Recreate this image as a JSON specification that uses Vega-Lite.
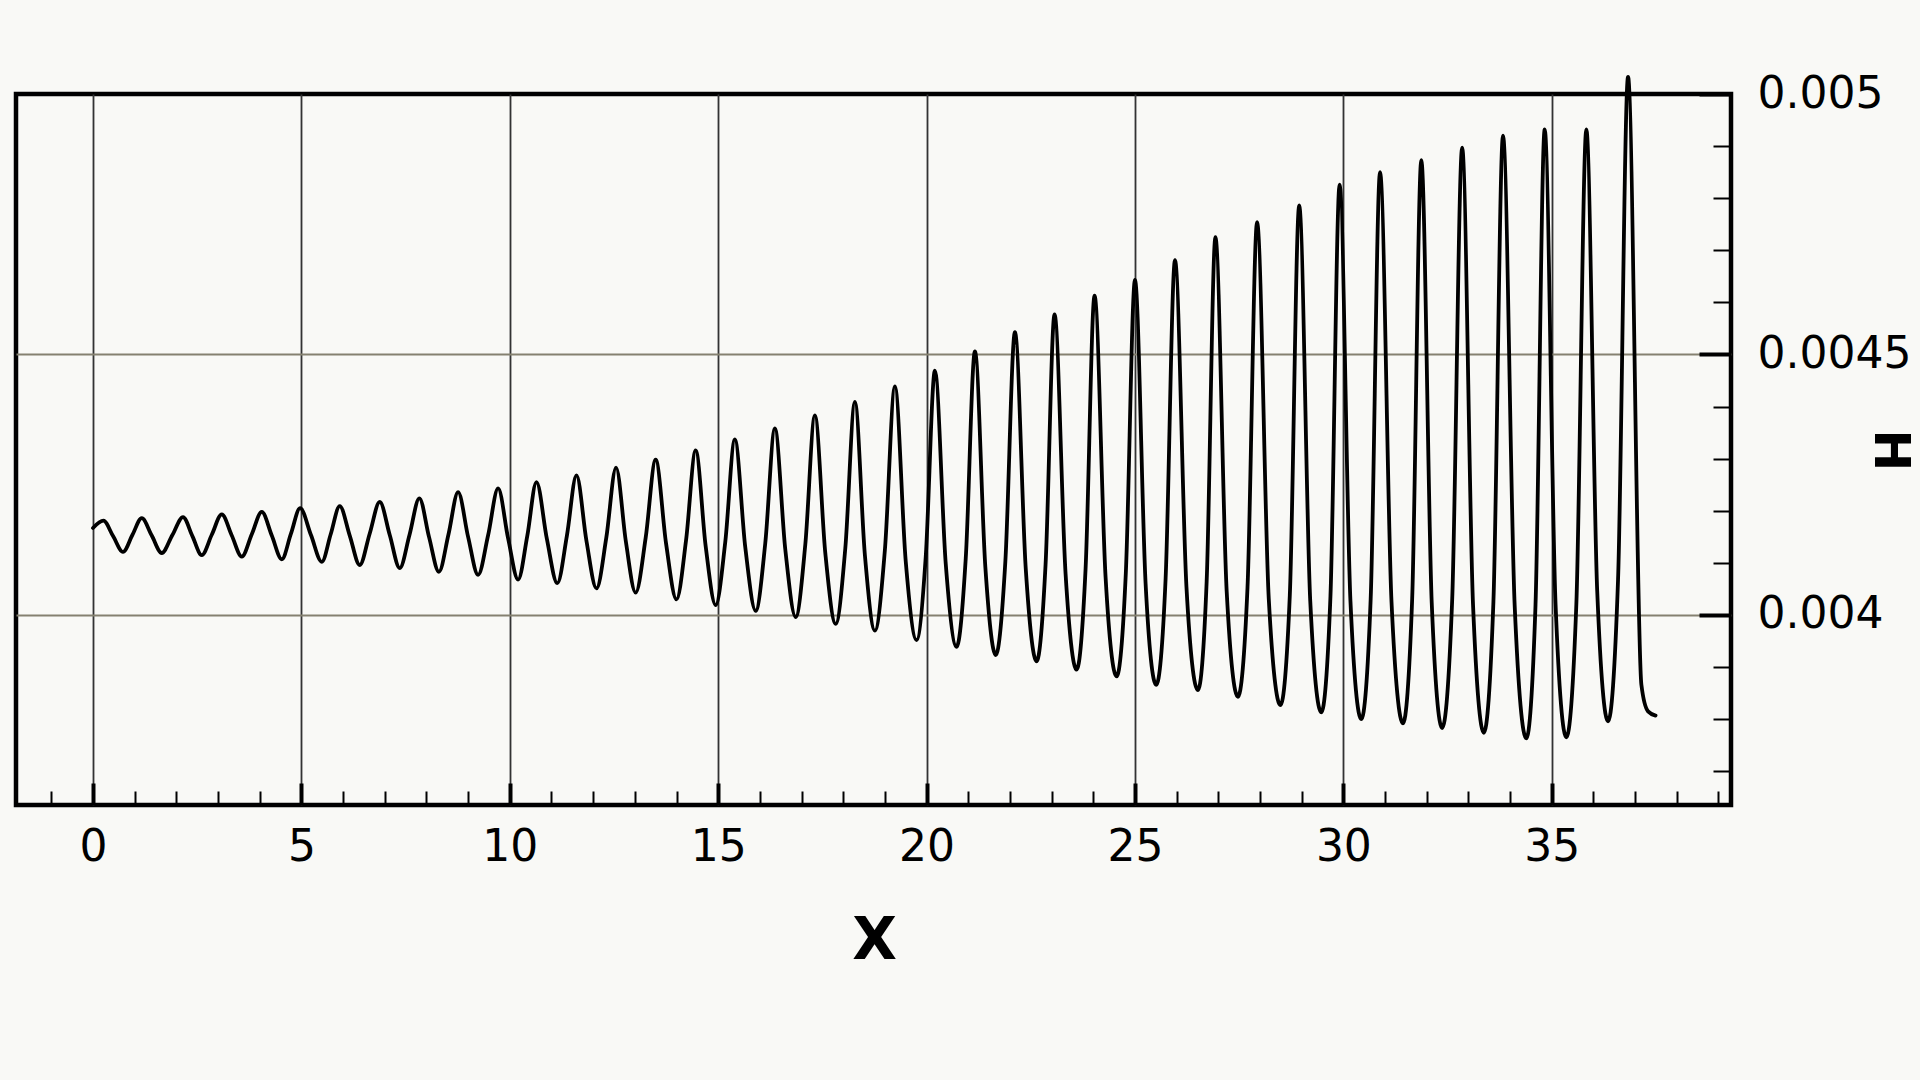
{
  "$schema": "https://vega.github.io/schema/vega-lite/v6.json",
  "width": 1715,
  "height": 711,
  "autosize": {"type": "none"},
  "padding": {"left": 16, "top": 94, "right": 189, "bottom": 275},
  "background": "#f9f9f6",
  "view": {"stroke": "#000000", "strokeWidth": 4.5, "fill": "#f9f9f6"},
  "data": {"values": [
    {"x": 0, "H": 0.004167}, {"x": 0.25, "H": 0.004181}, {"x": 0.485, "H": 0.004151}, {"x": 0.72, "H": 0.004121},
    {"x": 0.945, "H": 0.0041535}, {"x": 1.17, "H": 0.004186}, {"x": 1.41, "H": 0.0041525}, {"x": 1.65, "H": 0.004119},
    {"x": 1.905, "H": 0.0041535}, {"x": 2.16, "H": 0.004188}, {"x": 2.385, "H": 0.0041515}, {"x": 2.61, "H": 0.004115},
    {"x": 2.85, "H": 0.004154}, {"x": 3.09, "H": 0.004193}, {"x": 3.33, "H": 0.0041525}, {"x": 3.57, "H": 0.004112},
    {"x": 3.81, "H": 0.004155}, {"x": 4.05, "H": 0.004198}, {"x": 4.29, "H": 0.0041525}, {"x": 4.53, "H": 0.004107},
    {"x": 4.75, "H": 0.004156}, {"x": 4.97, "H": 0.004205}, {"x": 5.23, "H": 0.0041535}, {"x": 5.49, "H": 0.004102},
    {"x": 5.705, "H": 0.0041555}, {"x": 5.92, "H": 0.004209}, {"x": 6.16, "H": 0.0041525}, {"x": 6.4, "H": 0.004096},
    {"x": 6.64, "H": 0.0041565}, {"x": 6.88, "H": 0.004217}, {"x": 7.12, "H": 0.0041535}, {"x": 7.36, "H": 0.00409},
    {"x": 7.595, "H": 0.004154}, {"x": 7.83, "H": 0.004224}, {"x": 8.065, "H": 0.004149}, {"x": 8.3, "H": 0.004083},
    {"x": 8.53, "H": 0.004155}, {"x": 8.76, "H": 0.004236}, {"x": 9.0, "H": 0.00415}, {"x": 9.24, "H": 0.004077},
    {"x": 9.48, "H": 0.004153}, {"x": 9.72, "H": 0.004243}, {"x": 9.96, "H": 0.004147}, {"x": 10.2, "H": 0.004068},
    {"x": 10.42, "H": 0.004152}, {"x": 10.64, "H": 0.004255}, {"x": 10.89, "H": 0.004146}, {"x": 11.14, "H": 0.004061},
    {"x": 11.37, "H": 0.004152}, {"x": 11.6, "H": 0.004268}, {"x": 11.84, "H": 0.004142}, {"x": 12.08, "H": 0.004051},
    {"x": 12.315, "H": 0.004148}, {"x": 12.55, "H": 0.004283}, {"x": 12.785, "H": 0.004141}, {"x": 13.02, "H": 0.004043},
    {"x": 13.26, "H": 0.004148}, {"x": 13.5, "H": 0.004298}, {"x": 13.75, "H": 0.004137}, {"x": 14.0, "H": 0.00403},
    {"x": 14.23, "H": 0.004144}, {"x": 14.46, "H": 0.004316}, {"x": 14.7, "H": 0.004132}, {"x": 14.94, "H": 0.004019},
    {"x": 15.17, "H": 0.00414}, {"x": 15.4, "H": 0.004337}, {"x": 15.65, "H": 0.00413}, {"x": 15.9, "H": 0.004008},
    {"x": 16.13, "H": 0.004138}, {"x": 16.36, "H": 0.004358}, {"x": 16.61, "H": 0.004126}, {"x": 16.86, "H": 0.003996},
    {"x": 17.09, "H": 0.004135}, {"x": 17.32, "H": 0.004383}, {"x": 17.57, "H": 0.004119}, {"x": 17.82, "H": 0.003983},
    {"x": 18.05, "H": 0.004128}, {"x": 18.28, "H": 0.004409}, {"x": 18.52, "H": 0.004115}, {"x": 18.76, "H": 0.00397},
    {"x": 19.0, "H": 0.004125}, {"x": 19.24, "H": 0.004439}, {"x": 19.5, "H": 0.004103}, {"x": 19.76, "H": 0.003952},
    {"x": 19.98, "H": 0.004112}, {"x": 20.2, "H": 0.004469}, {"x": 20.46, "H": 0.004098}, {"x": 20.72, "H": 0.003939},
    {"x": 20.94, "H": 0.004109}, {"x": 21.16, "H": 0.004506}, {"x": 21.41, "H": 0.004092}, {"x": 21.66, "H": 0.003923},
    {"x": 21.89, "H": 0.004103}, {"x": 22.12, "H": 0.004543}, {"x": 22.38, "H": 0.004088}, {"x": 22.64, "H": 0.003911},
    {"x": 22.855, "H": 0.004097}, {"x": 23.07, "H": 0.004577}, {"x": 23.335, "H": 0.004079}, {"x": 23.6, "H": 0.003895},
    {"x": 23.815, "H": 0.004089}, {"x": 24.03, "H": 0.004613}, {"x": 24.295, "H": 0.004072}, {"x": 24.56, "H": 0.003882},
    {"x": 24.78, "H": 0.00408}, {"x": 25.0, "H": 0.004643}, {"x": 25.255, "H": 0.00406}, {"x": 25.51, "H": 0.003866},
    {"x": 25.735, "H": 0.00407}, {"x": 25.96, "H": 0.004681}, {"x": 26.235, "H": 0.004054}, {"x": 26.51, "H": 0.003856},
    {"x": 26.72, "H": 0.004065}, {"x": 26.93, "H": 0.004725}, {"x": 27.2, "H": 0.004046}, {"x": 27.47, "H": 0.003843},
    {"x": 27.7, "H": 0.004053}, {"x": 27.93, "H": 0.004754}, {"x": 28.21, "H": 0.004031}, {"x": 28.49, "H": 0.003827},
    {"x": 28.715, "H": 0.004038}, {"x": 28.94, "H": 0.004786}, {"x": 29.205, "H": 0.004027}, {"x": 29.47, "H": 0.003813},
    {"x": 29.69, "H": 0.004036}, {"x": 29.91, "H": 0.004826}, {"x": 30.17, "H": 0.004026}, {"x": 30.43, "H": 0.0038},
    {"x": 30.655, "H": 0.004031}, {"x": 30.88, "H": 0.00485}, {"x": 31.155, "H": 0.004025}, {"x": 31.43, "H": 0.003792},
    {"x": 31.65, "H": 0.00403}, {"x": 31.87, "H": 0.004873}, {"x": 32.12, "H": 0.004023}, {"x": 32.37, "H": 0.003783},
    {"x": 32.61, "H": 0.004028}, {"x": 32.85, "H": 0.004897}, {"x": 33.11, "H": 0.004021}, {"x": 33.37, "H": 0.003774},
    {"x": 33.6, "H": 0.004026}, {"x": 33.83, "H": 0.00492}, {"x": 34.11, "H": 0.004018}, {"x": 34.39, "H": 0.003763},
    {"x": 34.61, "H": 0.00402}, {"x": 34.83, "H": 0.004932}, {"x": 35.09, "H": 0.004022}, {"x": 35.35, "H": 0.003765},
    {"x": 35.59, "H": 0.004022}, {"x": 35.83, "H": 0.004932}, {"x": 36.09, "H": 0.004046}, {"x": 36.35, "H": 0.003796},
    {"x": 36.59, "H": 0.004068}, {"x": 36.83, "H": 0.005033}, {"x": 37.15, "H": 0.003866}, {"x": 37.31, "H": 0.003815},
    {"x": 37.49, "H": 0.003807}
  ]},
  "mark": {"type": "line", "color": "#000000", "strokeWidth": 3.8, "strokeJoin": "round", "strokeCap": "round", "interpolate": "monotone", "clip": false},
  "encoding": {
    "x": {
      "field": "x", "type": "quantitative",
      "scale": {"domain": [-1.847, 39.3], "nice": false, "zero": false},
      "axis": {
        "orient": "bottom",
        "values": [-1,0,1,2,3,4,5,6,7,8,9,10,11,12,13,14,15,16,17,18,19,20,21,22,23,24,25,26,27,28,29,30,31,32,33,34,35,36,37,38,39],
        "domain": false,
        "labelExpr": "datum.value % 5 === 0 ? datum.label : ''",
        "labelFont": "DejaVu Sans", "labelFontSize": 44, "labelColor": "#000000",
        "labelPadding": 42, "labelFlush": false, "labelOverlap": false, "labelBound": false,
        "tickColor": "#000000",
        "tickSize": {"condition": {"test": "datum.value % 5 === 0", "value": -22}, "value": -14},
        "tickWidth": {"condition": {"test": "datum.value % 5 === 0", "value": 4}, "value": 2},
        "grid": true, "gridColor": "#333333", "gridWidth": 1.8,
        "gridOpacity": {"condition": {"test": "datum.value % 5 === 0 && datum.value >= 0", "value": 1}, "value": 0},
        "title": "X", "titleFont": "DejaVu Sans", "titleFontSize": 58, "titleFontWeight": "bold", "titleColor": "#000000",
        "titleX": 858, "titleY": 136, "titleAlign": "center", "titleBaseline": "middle"
      }
    },
    "y": {
      "field": "H", "type": "quantitative",
      "scale": {"domain": [0.0036353, 0.005], "nice": false, "zero": false},
      "axis": {
        "orient": "right",
        "values": [0.0037,0.0038,0.0039,0.004,0.0041,0.0042,0.0043,0.0044,0.0045,0.0046,0.0047,0.0048,0.0049,0.005],
        "domain": false,
        "labelExpr": "abs(datum.value*2000 - round(datum.value*2000)) < 0.001 ? ('' + datum.value) : ''",
        "labelFont": "DejaVu Sans", "labelFontSize": 44, "labelColor": "#000000",
        "labelPadding": 58, "labelAlign": "left", "labelBaseline": "middle", "labelFlush": false, "labelOverlap": false, "labelBound": false,
        "tickColor": "#000000",
        "tickSize": {"condition": {"test": "abs(datum.value*2000 - round(datum.value*2000)) < 0.001", "value": -32}, "value": -18},
        "tickWidth": {"condition": {"test": "abs(datum.value*2000 - round(datum.value*2000)) < 0.001", "value": 4}, "value": 2},
        "grid": true, "gridColor": "#858170", "gridWidth": 2,
        "gridOpacity": {"condition": {"test": "abs(datum.value*2000 - round(datum.value*2000)) < 0.001 && datum.value < 0.0049", "value": 1}, "value": 0},
        "title": "H", "titleFont": "DejaVu Sans", "titleFontSize": 50, "titleFontWeight": "bold", "titleColor": "#000000",
        "titleAngle": 90, "titleX": 158, "titleY": 356, "titleAlign": "center", "titleBaseline": "middle"
      }
    }
  }
}
